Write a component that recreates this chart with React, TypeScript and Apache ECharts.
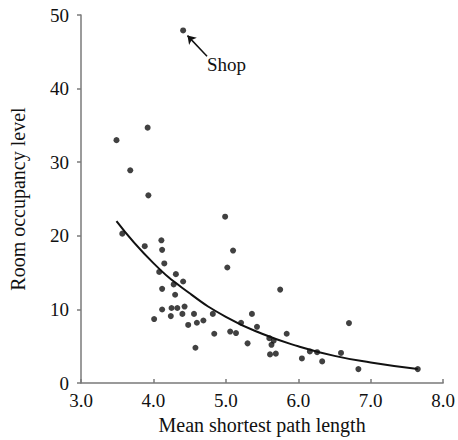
import React, { useEffect, useRef } from "react";
import * as echarts from "echarts";

const pathLength: number[] = [
  3.49, 3.92, 3.68, 3.93, 3.57, 3.88, 4.11, 4.12, 4.15, 4.08,
  4.31, 4.28, 4.41, 4.12, 4.30, 4.12, 4.01, 4.25, 4.33, 4.24,
  4.43, 4.40, 4.56, 4.48, 4.60, 4.69, 4.58, 4.82, 4.84, 4.99,
  5.02, 5.10, 5.06, 5.14, 5.21, 5.36, 5.43, 5.30, 5.60, 5.63,
  5.66, 5.61, 5.69, 5.75, 5.84, 6.05, 6.16, 6.26, 6.33, 6.59,
  6.70, 6.83, 7.65, 4.41,
];
const occupancy: number[] = [
  33.0, 34.7, 28.9, 25.5, 20.3, 18.6, 19.4, 18.1, 16.25, 15.1,
  14.8, 13.4, 13.8, 12.8, 12.0, 10.0, 8.7, 10.2, 10.2, 9.1,
  10.4, 9.4, 9.4, 7.9, 8.2, 8.5, 4.8, 9.4, 6.7, 22.6,
  15.7, 18.0, 7.0, 6.8, 8.2, 9.4, 7.65, 5.4, 6.1, 5.2,
  5.75, 3.9, 4.0, 12.7, 6.7, 3.35, 4.3, 4.2, 2.95, 4.1,
  8.15, 1.9, 1.9, 47.9,
];

const trendX: number[] = [3.49, 4.0, 4.5, 5.0, 5.5, 6.0, 6.5, 7.0, 7.65];
const trendY: number[] = [22.0, 16.3, 12.2, 9.0, 6.7, 5.0, 3.7, 2.8, 1.9];

const xTicks = { min: 3, max: 8, interval: 1 };
const yTicks = { min: 0, max: 50, interval: 10 };

const FONT = "'Liberation Serif', 'Times New Roman', serif";

export default function App() {
  const ref = useRef<HTMLDivElement>(null);
  useEffect(() => {
    if (!ref.current) return;
    const chart = echarts.init(ref.current, undefined, { renderer: "svg" });
    const axisLine = { show: true, lineStyle: { color: "#7a7a7a", width: 1.5 } };
    chart.setOption({
      animation: false,
      backgroundColor: "#ffffff",
      grid: { left: 74, right: 13, top: 15, bottom: 56 },
      xAxis: {
        type: "value",
        min: xTicks.min,
        max: xTicks.max,
        interval: xTicks.interval,
        axisLine,
        axisTick: { show: true, inside: true, length: 4, lineStyle: { color: "#7a7a7a", width: 1.5 } },
        splitLine: { show: false },
        axisLabel: {
          color: "#111",
          fontFamily: FONT,
          fontSize: 19,
          margin: 8,
          formatter: (v: number) => v.toFixed(1),
        },
        name: "Mean shortest path length",
        nameLocation: "middle",
        nameGap: 31,
        nameTextStyle: { color: "#111", fontFamily: FONT, fontSize: 20 },
      },
      yAxis: {
        type: "value",
        min: yTicks.min,
        max: yTicks.max,
        interval: yTicks.interval,
        axisLine,
        axisTick: { show: true, length: 4, lineStyle: { color: "#7a7a7a", width: 1.5 } },
        splitLine: { show: false },
        axisLabel: { color: "#111", fontFamily: FONT, fontSize: 19, margin: 12 },
        name: "Room occupancy level",
        nameLocation: "middle",
        nameGap: 53,
        nameTextStyle: { color: "#111", fontFamily: FONT, fontSize: 20 },
      },
      series: [
        {
          type: "line",
          data: trendX.map((x, i) => [x, trendY[i]]),
          smooth: true,
          showSymbol: false,
          lineStyle: { color: "#111", width: 2 },
          silent: true,
          z: 2,
        },
        {
          type: "scatter",
          data: pathLength.map((x, i) => [x, occupancy[i]]),
          symbolSize: 6,
          itemStyle: { color: "#111" },
          z: 3,
          markLine: {
            silent: true,
            symbol: ["none", "arrow"],
            symbolSize: 8,
            lineStyle: { color: "#111", width: 1.5, type: "solid" },
            label: { show: false },
            data: [[{ coord: [4.74, 44.4] }, { coord: [4.47, 47.2] }]],
          },
        },
      ],
      graphic: [
        {
          type: "text",
          x: 207,
          y: 64,
          style: {
            text: "Shop",
            fill: "#111",
            font: `19px ${FONT}`,
            verticalAlign: "middle",
            align: "left",
          },
        },
      ],
    });
    return () => chart.dispose();
  }, []);
  return <div ref={ref} style={{ width: 458, height: 440, position: "absolute", left: 0, top: 0 }} />;
}
